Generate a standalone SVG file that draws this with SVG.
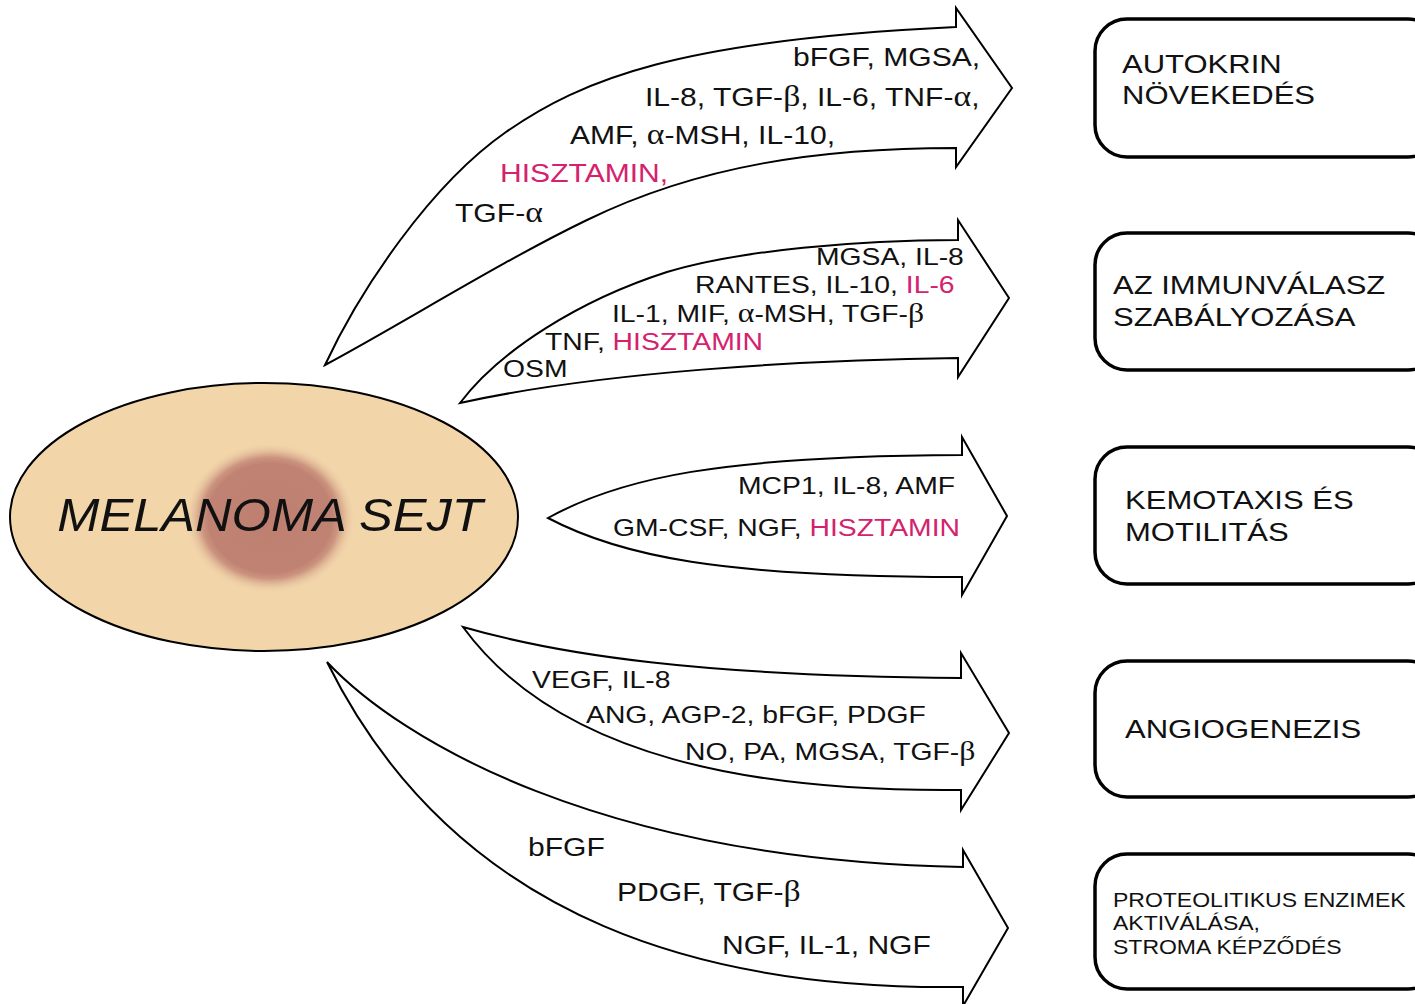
<svg xmlns="http://www.w3.org/2000/svg" width="1415" height="1004" viewBox="0 0 1415 1004">
<defs>
<radialGradient id="core" cx="0.5" cy="0.5" r="0.5">
<stop offset="0" stop-color="#BE7F70"/>
<stop offset="0.72" stop-color="#C08373"/>
<stop offset="0.8" stop-color="#CC9580"/>
<stop offset="1" stop-color="#F2D6AA" stop-opacity="0"/>
</radialGradient>
<style>
.arrow{fill:#fff;stroke:#000;stroke-width:2;stroke-linejoin:miter}
.box{fill:#fff;stroke:#000;stroke-width:3.5}
.t{font-family:"Liberation Sans",Arial,sans-serif;fill:#111}
.big{font-size:25.5px}
.mid{font-size:24px}
.bx{font-size:26.3px}
.sm{font-size:19.5px}
.pink{fill:#D4226D}
.g{font-family:"Liberation Serif","Times New Roman",serif;font-size:1.12em}
</style>
</defs>
<rect width="1415" height="1004" fill="#fff"/>

<g id="melanoma-sejt">
<ellipse cx="264" cy="517" rx="254" ry="134" fill="#F2D6AA" stroke="#000" stroke-width="2"/>
<ellipse cx="270" cy="518" rx="86" ry="76" fill="url(#core)"/>
<text class="t" font-style="italic" font-size="46" transform="translate(270,531) scale(1.1,1)" text-anchor="middle">MELANOMA SEJT</text>
</g>

<g id="connectors">
<g id="arrow-autokrin">
<path class="arrow" d="M325,365 C360,290 430,185 506,132 S680,40 956,27 L956,8 L1012,88 L956,167 L956,148 C820,148 700,165 587,220 C500,262 400,325 325,365 Z"/>
<text class="t big" transform="translate(793,66) scale(1.18,1)">bFGF, MGSA,</text>
<text class="t big" transform="translate(645,106) scale(1.18,1)">IL-8, TGF-<tspan class="g">β</tspan>, IL-6, TNF-<tspan class="g">α</tspan>,</text>
<text class="t big" transform="translate(570,144) scale(1.18,1)">AMF, <tspan class="g">α</tspan>-MSH, IL-10,</text>
<text class="t big pink" transform="translate(500,182) scale(1.18,1)">HISZTAMIN,</text>
<text class="t big" transform="translate(455,222) scale(1.18,1)">TGF-<tspan class="g">α</tspan></text>
</g>
<g id="arrow-immun">
<path class="arrow" d="M460,403 C500,350 580,300 667,272 C740,250 860,240 958,240 L958,220 L1009,298 L958,377 L958,358 C800,360 600,372 460,403 Z"/>
<text class="t mid" transform="translate(816,265) scale(1.18,1)">MGSA, IL-8</text>
<text class="t mid" transform="translate(695,293) scale(1.18,1)">RANTES, IL-10, <tspan class="pink">IL-6</tspan></text>
<text class="t mid" transform="translate(612,322) scale(1.18,1)">IL-1, MIF, <tspan class="g">α</tspan>-MSH, TGF-<tspan class="g">β</tspan></text>
<text class="t mid" transform="translate(545,350) scale(1.18,1)">TNF, <tspan class="pink">HISZTAMIN</tspan></text>
<text class="t mid" transform="translate(503,377) scale(1.18,1)">OSM</text>
</g>
<g id="arrow-kemotaxis">
<path class="arrow" d="M548,518 C620,478 720,456 962,455 L962,437 L1007,516 L962,595 L962,577 C720,577 620,556 548,518 Z"/>
<text class="t mid" transform="translate(738,494) scale(1.18,1)">MCP1, IL-8, AMF</text>
<text class="t mid" transform="translate(613,536) scale(1.18,1)">GM-CSF, NGF, <tspan class="pink">HISZTAMIN</tspan></text>
</g>
<g id="arrow-angiogenezis">
<path class="arrow" d="M463,627 C560,655 700,676 961,678 L961,653 L1009,733 L961,810 L961,790 C760,792 560,760 463,627 Z"/>
<text class="t mid" transform="translate(532,688) scale(1.18,1)">VEGF, IL-8</text>
<text class="t mid" transform="translate(586,723) scale(1.18,1)">ANG, AGP-2, bFGF, PDGF</text>
<text class="t mid" transform="translate(685,760) scale(1.18,1)">NO, PA, MGSA, TGF-<tspan class="g">β</tspan></text>
</g>
<g id="arrow-proteolitikus">
<path class="arrow" d="M327,662 C400,740 600,860 963,867 L963,850 L1008,928 L963,1006 L963,987 C720,990 460,930 327,662 Z"/>
<text class="t big" transform="translate(528,856) scale(1.18,1)">bFGF</text>
<text class="t big" transform="translate(617,901) scale(1.18,1)">PDGF, TGF-<tspan class="g">β</tspan></text>
<text class="t big" transform="translate(722,954) scale(1.18,1)">NGF, IL-1, NGF</text>
</g>
</g>

<g id="box-autokrin">
<rect class="box" x="1095" y="19" width="345" height="138" rx="32"/>
<text class="t bx" transform="translate(1122,73) scale(1.18,1)">AUTOKRIN</text>
<text class="t bx" transform="translate(1122,104) scale(1.18,1)">NÖVEKEDÉS</text>
</g>
<g id="box-immun">
<rect class="box" x="1095" y="233" width="345" height="137" rx="32"/>
<text class="t bx" transform="translate(1113,294) scale(1.18,1)">AZ IMMUNVÁLASZ</text>
<text class="t bx" transform="translate(1113,326) scale(1.18,1)">SZABÁLYOZÁSA</text>
</g>
<g id="box-kemotaxis">
<rect class="box" x="1095" y="447" width="345" height="137" rx="32"/>
<text class="t bx" transform="translate(1125,509) scale(1.18,1)">KEMOTAXIS ÉS</text>
<text class="t bx" transform="translate(1125,541) scale(1.18,1)">MOTILITÁS</text>
</g>
<g id="box-angiogenezis">
<rect class="box" x="1095" y="661" width="345" height="136" rx="32"/>
<text class="t bx" transform="translate(1125,738) scale(1.18,1)">ANGIOGENEZIS</text>
</g>
<g id="box-proteolitikus">
<rect class="box" x="1095" y="854" width="345" height="135" rx="32"/>
<text class="t sm" transform="translate(1113,907) scale(1.18,1)">PROTEOLITIKUS ENZIMEK</text>
<text class="t sm" transform="translate(1113,930) scale(1.18,1)">AKTIVÁLÁSA,</text>
<text class="t sm" transform="translate(1113,954) scale(1.18,1)">STROMA KÉPZŐDÉS</text>
</g>
</svg>
